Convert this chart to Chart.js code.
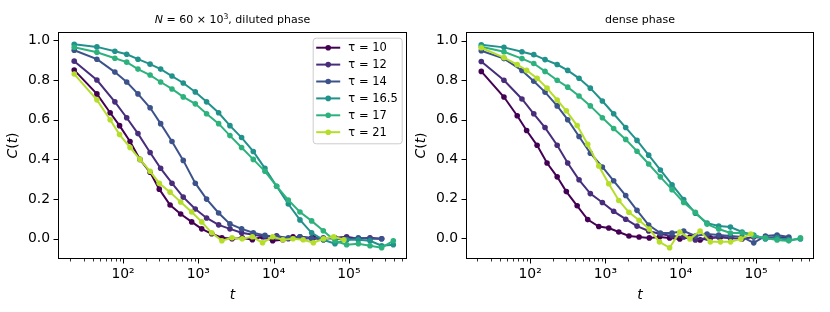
<!DOCTYPE html>
<html lang="en">
<head>
<meta charset="utf-8">
<script src="https://cdn.jsdelivr.net/npm/chart.js"></script>
<style>
  html, body { margin: 0; padding: 0; background: #fff; }
  #wrap { position: relative; width: 830px; height: 312px; }
  canvas { position: absolute; top: 0; }
</style>
</head>
<body>
<div id="wrap">
  <canvas id="dilute" width="415" height="312" style="left:0"></canvas>
  <canvas id="dense" width="415" height="312" style="left:415px"></canvas>
</div>
<script>
// sampling times (two grids: tau 10 & 21 use tA, the others tB)
const tA = [22.5, 45, 67.5, 90, 124, 168, 229, 303, 422, 583, 817, 1109, 1507, 2056, 2805,
  3828, 5224, 7129, 9727, 13274, 18113, 24717, 33729, 46026, 62806, 85704];
const tB = [22.5, 45, 78, 112, 158, 229, 316, 447, 631, 912, 1288, 1862, 2630, 3758, 5370,
  7674, 10965, 15668, 22387, 31989, 45709, 65313, 93325, 133352, 190546, 272270, 389045];

const taus = [10, 12, 14, 16.5, 17, 21];

// diluted phase, C(t)
const dil10 = [0.85, 0.73, 0.635, 0.57, 0.49, 0.40, 0.335, 0.25, 0.17, 0.125, 0.085, 0.05, 0.025,
  0.005, 0.0, 0.005, -0.005, 0.01, -0.01, -0.005, 0.01, 0.0, 0.005, -0.005];
const dil12 = [0.895, 0.80, 0.69, 0.61, 0.53, 0.435, 0.355, 0.28, 0.21, 0.15, 0.105, 0.07, 0.05,
  0.03, 0.02, 0.01, 0.015, 0.0, 0.01, 0.005, 0.0, 0.005, 0.01, 0.0, 0.005, 0.0];
const dil14 = [0.95, 0.905, 0.84, 0.79, 0.73, 0.66, 0.58, 0.49, 0.395, 0.28, 0.20, 0.13, 0.075,
  0.05, 0.03, 0.017, 0.01, 0.005, 0.01, 0.0, 0.005, 0.0, -0.005, 0.005, 0.0, 0.0];
const dil165 = [0.98, 0.967, 0.945, 0.93, 0.905, 0.88, 0.855, 0.82, 0.785, 0.74, 0.69, 0.635, 0.57,
  0.51, 0.44, 0.355, 0.265, 0.175, 0.095, 0.03, -0.005, -0.025, -0.005, -0.005, -0.01, -0.035, -0.03];
const dil17 = [0.965, 0.94, 0.91, 0.89, 0.855, 0.825, 0.79, 0.755, 0.715, 0.68, 0.63, 0.58, 0.52,
  0.46, 0.40, 0.34, 0.265, 0.195, 0.135, 0.09, 0.04, -0.01, -0.03, -0.025, -0.035, -0.045, -0.01];
const dil21 = [0.83, 0.70, 0.60, 0.525, 0.46, 0.40, 0.34, 0.28, 0.235, 0.185, 0.135, 0.085, 0.03,
  -0.01, 0.005, 0.0, 0.01, -0.02, 0.01, -0.005, 0.0, -0.005, -0.02, 0.0, 0.01, -0.005];

// dense phase, C(t)
const den10 = [0.845, 0.715, 0.62, 0.545, 0.47, 0.38, 0.31, 0.235, 0.163, 0.093, 0.058, 0.05, 0.03,
  0.01, 0.005, 0.0, 0.005, 0.0, -0.005, 0.005, -0.01, 0.0, 0.005, 0.0];
const den12 = [0.895, 0.80, 0.705, 0.63, 0.56, 0.47, 0.38, 0.295, 0.225, 0.18, 0.135, 0.095, 0.06,
  0.035, 0.02, 0.01, 0.005, -0.01, 0.0, 0.005, 0.0, -0.005, 0.005, 0.0, 0.005, 0.0];
const den14 = [0.95, 0.91, 0.85, 0.795, 0.74, 0.67, 0.60, 0.515, 0.43, 0.36, 0.29, 0.215, 0.14,
  0.065, 0.025, 0.025, 0.035, 0.01, 0.02, 0.015, 0.01, 0.005, -0.025, 0.01, 0.015, 0.005];
const den165 = [0.98, 0.967, 0.945, 0.93, 0.905, 0.88, 0.85, 0.81, 0.76, 0.695, 0.63, 0.56, 0.495,
  0.42, 0.345, 0.27, 0.195, 0.125, 0.075, 0.06, 0.055, 0.03, 0.015, -0.005, 0.0, -0.01, -0.005];
const den17 = [0.97, 0.945, 0.91, 0.885, 0.845, 0.80, 0.765, 0.72, 0.67, 0.61, 0.555, 0.50, 0.44,
  0.375, 0.31, 0.245, 0.18, 0.13, 0.07, 0.045, 0.025, 0.025, 0.01, 0.0, -0.01, -0.015, 0.0];
const den21 = [0.965, 0.915, 0.88, 0.85, 0.81, 0.76, 0.70, 0.645, 0.57, 0.475, 0.365, 0.275, 0.19,
  0.13, 0.09, 0.045, -0.02, -0.05, 0.03, -0.005, 0.035, -0.02, -0.02, -0.02, -0.005, 0.02];

const yTicks = [0, 0.2, 0.4, 0.6, 0.8, 1.0];
const xMajor = [1e2, 1e3, 1e4, 1e5];

const colors = ['#440154', '#472d7b', '#3b528b', '#21918c', '#2db27d', '#b5de2b'];
const sampleTimes = [tA, tB, tB, tB, tB, tA];
const sup = { 2: '\u00b2', 3: '\u00b3', 4: '\u2074', 5: '\u2075' };
const FAM = "'DejaVu Sans', sans-serif";
const font = (size, style) => (style ? style + ' ' : '') + size + 'px ' + FAM;

Chart.defaults.font.family = FAM;
Chart.defaults.color = '#000';

function makeDatasets(series) {
  return taus.map((tau, i) => ({
    label: '\u03c4 = ' + tau,
    data: series[i].map((c, k) => ({ x: sampleTimes[i][k], y: c })),
    borderColor: colors[i],
    backgroundColor: colors[i],
    borderWidth: 2,
    pointRadius: 2.8,
    pointBorderWidth: 0,
    pointHoverRadius: 2.8,
    order: taus.length - i,
  }));
}

// draw a line of text made of runs in different fonts, centred on x
function drawRuns(ctx, runs, x, y) {
  let w = 0;
  runs.forEach(r => { ctx.font = r.font; r.w = ctx.measureText(r.text).width; w += r.w; });
  let cx = x - w / 2;
  runs.forEach(r => { ctx.font = r.font; ctx.fillText(r.text, cx, y + (r.dy || 0)); cx += r.w; });
}

const mplAxes = {
  id: 'mplAxes',
  afterDatasetsDraw(chart, args, opts) {
    const { ctx, chartArea: a, scales: { x, y } } = chart;
    ctx.save();
    ctx.strokeStyle = '#000';
    ctx.lineWidth = 1;
    ctx.strokeRect(a.left + 0.5, a.top + 0.5, a.right - a.left - 1, a.bottom - a.top - 1);

    // major ticks
    ctx.beginPath();
    yTicks.forEach(v => {
      const py = Math.round(y.getPixelForValue(v)) + 0.5;
      ctx.moveTo(a.left, py); ctx.lineTo(a.left - 4.5, py);
    });
    xMajor.forEach(v => {
      const px = Math.round(x.getPixelForValue(v)) + 0.5;
      ctx.moveTo(px, a.bottom); ctx.lineTo(px, a.bottom + 4.5);
    });
    ctx.stroke();
    // minor ticks on the log axis
    ctx.lineWidth = 0.8;
    ctx.beginPath();
    for (let e = 1; e <= 5; e++) {
      for (let k = 2; k <= 9; k++) {
        const v = k * Math.pow(10, e);
        if (v < x.min || v > x.max) continue;
        const px = Math.round(x.getPixelForValue(v)) + 0.5;
        ctx.moveTo(px, a.bottom); ctx.lineTo(px, a.bottom + 2.5);
      }
    }
    ctx.stroke();

    // legend
    if (opts.legend) {
      const bw = 89, bh = 105.6;
      const bx = a.right - 5.3 - bw, by = a.top + 5.7;
      ctx.beginPath();
      if (ctx.roundRect) ctx.roundRect(bx + 0.5, by + 0.5, bw, bh, 3);
      else ctx.rect(bx + 0.5, by + 0.5, bw, bh);
      ctx.fillStyle = 'rgba(255,255,255,0.8)';
      ctx.fill();
      ctx.strokeStyle = '#cccccc';
      ctx.lineWidth = 1;
      ctx.stroke();
      ctx.textBaseline = 'middle';
      ctx.textAlign = 'left';
      chart.data.datasets.forEach((ds, i) => {
        const ry = by + 10 + i * 16.9;
        ctx.strokeStyle = ds.borderColor;
        ctx.lineWidth = 2;
        ctx.beginPath();
        ctx.moveTo(bx + 3.5, ry); ctx.lineTo(bx + 27.5, ry);
        ctx.stroke();
        ctx.fillStyle = ds.borderColor;
        ctx.beginPath();
        ctx.arc(bx + 15.5, ry, 2.8, 0, Math.PI * 2);
        ctx.fill();
        ctx.fillStyle = '#000';
        ctx.font = font(11.5);
        ctx.fillText(ds.label, bx + 35.6, ry + 0.5);
      });
    }

    // title and axis labels
    ctx.fillStyle = '#000';
    ctx.textBaseline = 'alphabetic';
    ctx.textAlign = 'left';
    const cx = (a.left + a.right) / 2;
    drawRuns(ctx, opts.title, cx, a.top - 9);
    drawRuns(ctx, [{ text: 't', font: font(13.9, 'italic') }], cx, 299);
    ctx.translate(a.left - 41, (a.top + a.bottom) / 2);
    ctx.rotate(-Math.PI / 2);
    drawRuns(ctx, [
      { text: 'C', font: font(13.9, 'italic') },
      { text: '(', font: font(13.9) },
      { text: 't', font: font(13.9, 'italic') },
      { text: ')', font: font(13.9) },
    ], 0, 0);
    ctx.restore();
  }
};

function makeChart(id, series, cfg) {
  return new Chart(document.getElementById(id), {
    type: 'line',
    data: { datasets: makeDatasets(series) },
    plugins: [mplAxes],
    options: {
      responsive: false,
      animation: false,
      events: [],
      layout: { padding: { top: 32, right: cfg.padRight, bottom: 0, left: 0 } },
      plugins: {
        legend: { display: false },
        tooltip: { enabled: false },
        mplAxes: { legend: cfg.legend, title: cfg.title },
      },
      scales: {
        x: {
          type: 'logarithmic',
          min: cfg.xMin,
          max: cfg.xMax,
          bounds: 'data',
          grid: { display: false, drawTicks: false },
          border: { display: false },
          afterBuildTicks: s => { s.ticks = xMajor.map(v => ({ value: v })); },
          afterFit: s => { s.height = 53; },
          ticks: {
            autoSkip: false,
            maxRotation: 0,
            padding: 7,
            color: '#000',
            font: { size: 13.9 },
            callback: v => '10' + sup[Math.round(Math.log10(v))],
          },
        },
        y: {
          type: 'linear',
          min: cfg.yMin,
          max: cfg.yMax,
          bounds: 'data',
          grid: { display: false, drawTicks: false },
          border: { display: false },
          afterBuildTicks: s => { s.ticks = yTicks.map(v => ({ value: v })); },
          afterFit: s => { s.width = cfg.yWidth; },
          ticks: {
            padding: 8,
            color: '#000',
            font: { size: 13.9 },
            callback: v => Number(v).toFixed(1),
          },
        },
      },
    },
  });
}

makeChart('dilute', [dil10, dil12, dil14, dil165, dil17, dil21], {
  padRight: 8, yWidth: 58, xMin: 13.7, xMax: 5.91e5, yMin: -0.102, yMax: 1.042, legend: true,
  title: [
    { text: 'N', font: font(11, 'italic') },
    { text: ' = 60 \u00d7 10', font: font(11) },
    { text: '3', font: font(7.7), dy: -4.5 },
    { text: ', diluted phase', font: font(11) },
  ],
});

makeChart('dense', [den10, den12, den14, den165, den17, den21], {
  padRight: 16, yWidth: 51, xMin: 14.1, xMax: 5.89e5, yMin: -0.107, yMax: 1.045, legend: false,
  title: [{ text: 'dense phase', font: font(11) }],
});
</script>
</body>
</html>
